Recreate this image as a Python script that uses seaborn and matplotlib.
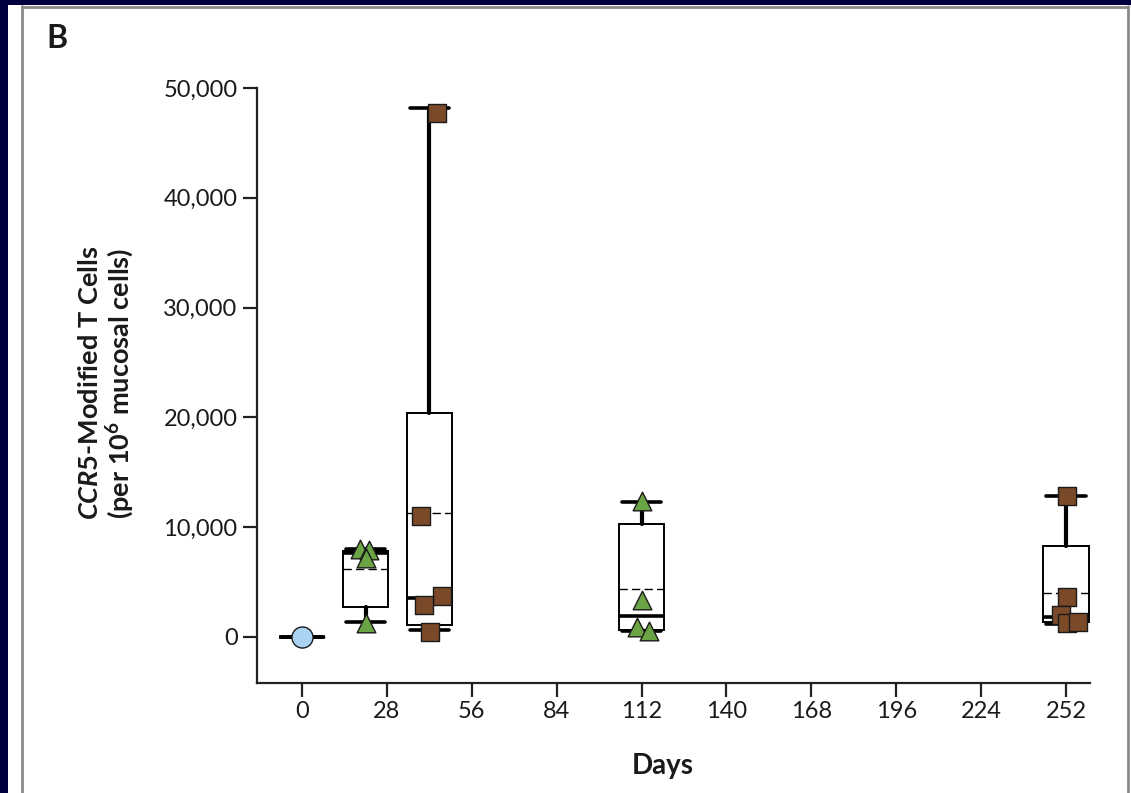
import numpy as np
import pandas as pd
import matplotlib
matplotlib.use("Agg")
import matplotlib.pyplot as plt
from matplotlib.patches import Rectangle
from matplotlib.lines import Line2D
import seaborn as sns

# ---- data ----
box_days = [0, 21, 42, 112, 252]
box_whislo = [0, 1350, 620, 550, 1200]
box_q1 = [0, 2750, 1050, 650, 1370]
box_median = [0, 7650, 3550, 1900, 1820]
box_q3 = [0, 7850, 20400, 10300, 8300]
box_whishi = [0, 8000, 48200, 12300, 12850]
box_mean = [0, 6200, 11300, 4350, 4000]

baseline_days = [0]
baseline_vals = [0]
green_days = [19.1, 22.1, 21.1, 21.1, 112.3, 112.3, 110.4, 114.3]
green_vals = [8000, 7950, 7200, 1300, 12400, 3400, 900, 550]
brown_days = [44.5, 39.2, 46.1, 40.2, 42.2, 252.3, 252.3, 250.3, 252.3, 255.9]
brown_vals = [47700, 11000, 3700, 2900, 500, 12800, 3600, 2000, 1250, 1400]

x_ticks = [0, 28, 56, 84, 112, 140, 168, 196, 224, 252]
y_ticks = [0, 10000, 20000, 30000, 40000, 50000]
y_ticklabels = ["0", "10,000", "20,000", "30,000", "40,000", "50,000"]

# ---- style ----
sns.set_theme(style="white")
FONT = "Lato"
plt.rcParams["font.family"] = [FONT, "DejaVu Sans"]
plt.rcParams["mathtext.fontset"] = "custom"
plt.rcParams["mathtext.rm"] = FONT + ":bold"
plt.rcParams["mathtext.it"] = FONT + ":italic:bold"
plt.rcParams["mathtext.bf"] = FONT + ":bold"

fig = plt.figure(figsize=(11.31, 7.93), dpi=100, facecolor="white")
W, H = 1131, 793

# frame decoration
fig.patches.append(Rectangle((0, 0), 8 / W, 1, transform=fig.transFigure,
                             facecolor="#00003f", edgecolor="none", zorder=0))
fig.patches.append(Rectangle((0, 1 - 5 / H), 1, 5 / H, transform=fig.transFigure,
                             facecolor="#00003f", edgecolor="none", zorder=0))
fig.lines.append(Line2D([22 / W, 22 / W], [0, 1 - 6 / H], transform=fig.transFigure,
                        color="#8a8a8a", lw=2))
fig.lines.append(Line2D([22 / W, 1128 / W], [1 - 6.5 / H, 1 - 6.5 / H], transform=fig.transFigure,
                        color="#8a8a8a", lw=2))
fig.lines.append(Line2D([1128 / W, 1128 / W], [0, 1 - 6 / H], transform=fig.transFigure,
                        color="#8a8a8a", lw=2))

ax = fig.add_axes([257 / W, 1 - 683 / H, (1090 - 257) / W, (683 - 88) / H])
ax.set_facecolor("white")

# ---- boxes ----
stats = []
for d, lo, q1, med, q3, hi, mn in zip(box_days, box_whislo, box_q1, box_median,
                                       box_q3, box_whishi, box_mean):
    stats.append(dict(whislo=lo, q1=q1, med=med, q3=q3, whishi=hi, mean=mn, fliers=[]))

ax.bxp(stats, positions=box_days, widths=15, showmeans=True, meanline=True,
       showfliers=False, patch_artist=True, manage_ticks=False,
       boxprops=dict(facecolor="white", edgecolor="black", linewidth=1.4),
       whiskerprops=dict(color="black", linewidth=3),
       capprops=dict(color="black", linewidth=2.6),
       capwidths=13,
       medianprops=dict(color="black", linewidth=2.6),
       meanprops=dict(color="black", linewidth=1.0, linestyle=(0, (6, 3))))

# ---- points ----
df = pd.DataFrame({
    "day": baseline_days + green_days + brown_days,
    "value": baseline_vals + green_vals + brown_vals,
    "group": ["base"] * len(baseline_days) + ["green"] * len(green_days) + ["brown"] * len(brown_days),
})
palette = {"base": "#a9d3f2", "green": "#6aa444", "brown": "#7a4a28"}
markers = {"base": "o", "green": "^", "brown": "s"}
sizes = {"base": 230, "green": 180, "brown": 180}
for g in ["base", "green", "brown"]:
    sub = df[df["group"] == g]
    sns.scatterplot(data=sub, x="day", y="value", marker=markers[g], color=palette[g],
                    s=sizes[g], edgecolor="#1a1a1a", linewidth=1.0, ax=ax, zorder=5,
                    legend=False)

# ---- axes ----
ax.set_xlim(-14.84, 259.9)
ax.set_ylim(-4190, 50000)
ax.set_xticks(x_ticks)
ax.set_xticklabels([str(t) for t in x_ticks])
ax.set_yticks(y_ticks)
ax.set_yticklabels(y_ticklabels)
for s in ["top", "right"]:
    ax.spines[s].set_visible(False)
for s in ["left", "bottom"]:
    ax.spines[s].set_color("#222222")
    ax.spines[s].set_linewidth(1.6)
ax.tick_params(axis="both", which="major", direction="out", length=10, width=1.6,
               color="#222222", labelsize=17, labelcolor="#1a1a1a", left=True, bottom=True)
ax.tick_params(axis="x", pad=3)
ax.tick_params(axis="y", pad=4)

ax.set_xlabel("Days", fontsize=20, fontweight="bold", color="#1a1a1a")
ax.xaxis.set_label_coords((663 - 257) / 833, (683 - 766) / 595)
ax.xaxis.label.set_va("center")

ylabel = (r"$\mathit{CCR5}\text{-Modified T Cells}$" + "\n"
          + r"$\text{(per 10}^{6}\text{ mucosal cells)}$")
ax.set_ylabel(ylabel, fontsize=19.5, color="#1a1a1a", linespacing=1.05)
ax.yaxis.set_label_coords((107 - 257) / 833, (683 - 383) / 595)
ax.yaxis.label.set_va("center")

fig.text(46 / W, 1 - 39 / H, "B", fontsize=23, fontweight="bold", color="#1a1a1a",
         va="center", ha="left")

fig.savefig("out.png", dpi=100, facecolor="white")
